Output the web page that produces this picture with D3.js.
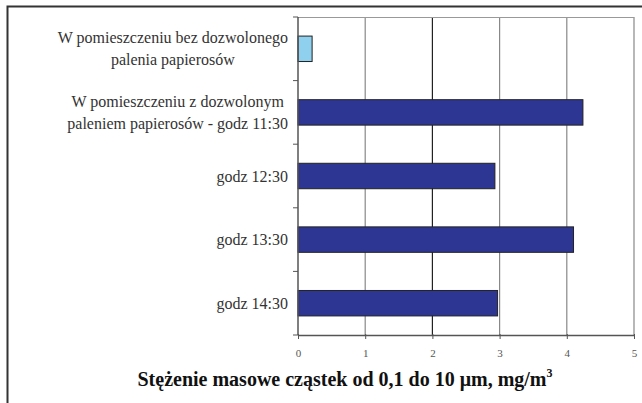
<!DOCTYPE html>
<html>
<head>
<meta charset="utf-8">
<script src="https://cdn.jsdelivr.net/npm/d3@7"></script>
<style>
  body { margin: 0; background: #fff; }
  svg { display: block; }
  svg text { font-family: "Liberation Serif", "Times New Roman", serif; }
</style>
</head>
<body>
<svg id="chart"></svg>
<script>
// category labels (each split in display lines)
const categories = [
  ["W pomieszczeniu bez dozwolonego", "palenia papierosów"],
  ["W pomieszczeniu z dozwolonym", "paleniem papierosów - godz 11:30"],
  ["godz 12:30"],
  ["godz 13:30"],
  ["godz 14:30"]
];
const values = [0.21, 4.24, 2.93, 4.10, 2.97];
const barColors = ["#8fd0ee", "#2e3694", "#2e3694", "#2e3694", "#2e3694"];
const xTicks = [0, 1, 2, 3, 4, 5];

const W = 642, H = 403;
const margin = { top: 17, right: 8, bottom: 68, left: 298 };

const svg = d3.select("#chart").attr("width", W).attr("height", H);

// outer frame (left + top only visible)
svg.append("path")
  .attr("d", `M7.5,${H} V6.5 H${W}`)
  .attr("fill", "none")
  .attr("stroke", "#333")
  .attr("stroke-width", 2);

const width = W - margin.left - margin.right;
const height = H - margin.top - margin.bottom;

const g = svg.append("g")
  .attr("transform", `translate(${margin.left},${margin.top})`);

const x = d3.scaleLinear().domain([0, 5]).range([0, width]);
const y = d3.scaleBand()
  .domain(d3.range(categories.length))
  .range([0, height])
  .paddingInner(0.6)
  .paddingOuter(0.3);

// gridlines
g.selectAll(".grid")
  .data(xTicks.slice(1))
  .join("line")
  .attr("x1", d => x(d)).attr("x2", d => x(d))
  .attr("y1", 0).attr("y2", height)
  .attr("stroke", d => d === 2 ? "#222" : "#888")
  .attr("stroke-width", 1.2);

// top plot border
g.append("line")
  .attr("x1", 0).attr("x2", width)
  .attr("y1", 0.5).attr("y2", 0.5)
  .attr("stroke", "#999");

// bars
g.selectAll(".bar")
  .data(values)
  .join("rect")
  .attr("x", 0)
  .attr("y", (d, i) => y(i))
  .attr("width", d => x(d))
  .attr("height", y.bandwidth())
  .attr("fill", (d, i) => barColors[i])
  .attr("stroke", "#222")
  .attr("stroke-width", 1);

// x axis
const xAxis = g.append("g")
  .attr("transform", `translate(0,${height})`)
  .call(d3.axisBottom(x).tickValues(xTicks).tickFormat(d3.format("d"))
    .tickSize(4).tickSizeOuter(0).tickPadding(10));
xAxis.select(".domain").attr("stroke", "#555").attr("stroke-width", 1.5);
xAxis.selectAll(".tick line").attr("stroke", "#555").attr("y1", -1);
xAxis.selectAll("text")
  .attr("font-size", 11)
  .attr("fill", "#555");

// y axis: ticks at band boundaries
const step = height / categories.length;
const yLine = g.append("g");
yLine.append("line")
  .attr("x1", 0).attr("x2", 0).attr("y1", 0).attr("y2", height)
  .attr("stroke", "#555").attr("stroke-width", 1.5);
yLine.selectAll(".ytick")
  .data(d3.range(categories.length + 1))
  .join("line")
  .attr("x1", -5).attr("x2", 0)
  .attr("y1", d => d * step).attr("y2", d => d * step)
  .attr("stroke", "#555");

// category labels
const lineH = 22;
g.selectAll(".cat")
  .data(categories)
  .join("text")
  .attr("class", "cat")
  .attr("font-size", 16)
  .attr("fill", "#333")
  .each(function (lines, i) {
    const cy = y(i) + y.bandwidth() / 2;
    const t = d3.select(this);
    lines.forEach((s, j) => {
      t.append("tspan")
        .attr("y", cy + (j - (lines.length - 1) / 2) * lineH)
        .attr("dy", "0.35em")
        .text(s);
    });
    // multi-line blocks are centred on each other, block right-aligned
    const spans = t.selectAll("tspan").nodes();
    const maxW = d3.max(spans, s => s.getComputedTextLength());
    spans.forEach(s => {
      d3.select(s).attr("text-anchor", "middle").attr("x", -10 - maxW / 2);
    });
  });

// x axis title
svg.append("text")
  .attr("x", 345)
  .attr("y", 386)
  .attr("text-anchor", "middle")
  .attr("font-weight", "bold")
  .attr("font-size", 20)
  .attr("fill", "#111")
  .html('Stężenie masowe cząstek od 0,1 do 10 μm, mg/m<tspan dy="-9" font-size="12">3</tspan>');
</script>
</body>
</html>
